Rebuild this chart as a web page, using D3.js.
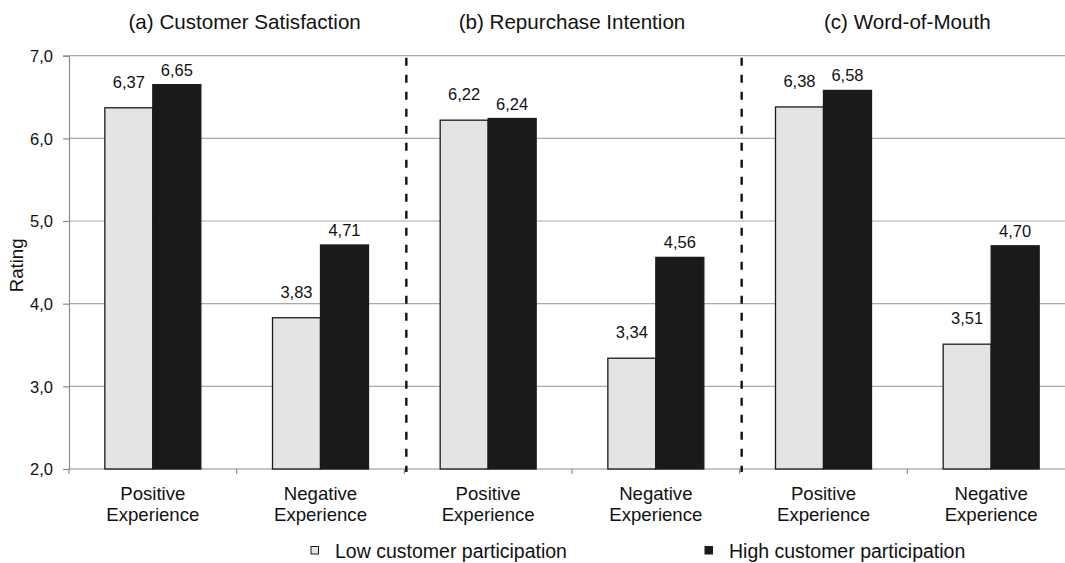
<!DOCTYPE html>
<html>
<head>
<meta charset="utf-8">
<script src="https://cdn.jsdelivr.net/npm/d3@7"></script>
<style>
  html, body { margin: 0; padding: 0; background: #fff; }
  svg { display: block; font-family: "Liberation Sans", Arial, sans-serif; }
</style>
</head>
<body>
<svg id="chart" width="1065" height="563"></svg>
<script>
// ---- Data ----
const panels = ["(a) Customer Satisfaction", "(b) Repurchase Intention", "(c) Word-of-Mouth"];
const experiences = ["Positive Experience", "Negative Experience"];
const categories = ["a-pos", "a-neg", "b-pos", "b-neg", "c-pos", "c-neg"];
const seriesNames = ["Low customer participation", "High customer participation"];
const lowValues  = [6.37, 3.83, 6.22, 3.34, 6.38, 3.51];
const highValues = [6.65, 4.71, 6.24, 4.56, 6.58, 4.70];
const yTicks = [2, 3, 4, 5, 6, 7];

// ---- Layout ----
const svg = d3.select("#chart");
const plotLeft = 69, plotRight = 1075, plotTop = 55.7, plotBottom = 469;

const x = d3.scaleBand().domain(categories).range([plotLeft, plotRight])
  .paddingInner(0.4275).paddingOuter(0.21375);
const xs = d3.scaleBand().domain([0, 1]).range([0, x.bandwidth()]).padding(0);
const y = d3.scaleLinear().domain([2, 7]).range([plotBottom, plotTop]);

const fmt = v => d3.format(".2f")(v).replace(".", ",");
const fmtTick = v => d3.format(".1f")(v).replace(".", ",");

// gridlines
svg.append("g").selectAll("line").data(yTicks.filter(t => t > 2)).join("line")
  .attr("x1", plotLeft).attr("x2", plotRight)
  .attr("y1", d => y(d)).attr("y2", d => y(d))
  .attr("stroke", "#a9a9a9").attr("stroke-width", 1.2);

// y axis
const yAxis = d3.axisLeft(y).tickValues(yTicks).tickSize(6).tickFormat(fmtTick);
const gy = svg.append("g").attr("transform", `translate(${plotLeft},0)`).call(yAxis);
gy.select(".domain").attr("stroke", "#8c8c8c").attr("stroke-width", 1.2);
gy.selectAll(".tick line").attr("stroke", "#8c8c8c").attr("stroke-width", 1.2);
gy.selectAll(".tick text").attr("font-size", 16.5).attr("fill", "#111")
  .attr("font-family", "'Liberation Sans', Arial, sans-serif").attr("x", -16).attr("dy", "0.36em");

// x axis line + boundary ticks
const step = x.step();
const boundaries = d3.range(categories.length + 1).map(i => plotLeft + i * step);
svg.append("line").attr("x1", plotLeft).attr("x2", plotRight)
  .attr("y1", plotBottom).attr("y2", plotBottom)
  .attr("stroke", "#8c8c8c").attr("stroke-width", 1.2);
svg.append("g").selectAll("line").data(boundaries).join("line")
  .attr("x1", d => d).attr("x2", d => d)
  .attr("y1", plotBottom).attr("y2", plotBottom + 5)
  .attr("stroke", "#8c8c8c").attr("stroke-width", 1.2);

// bars
const colors = ["#e4e4e4", "#1a1a1a"];
const rows = categories.map((c, i) => ({ c, vals: [lowValues[i], highValues[i]] }));
const gBars = svg.append("g");
rows.forEach(r => {
  r.vals.forEach((v, s) => {
    gBars.append("rect")
      .attr("x", x(r.c) + xs(s))
      .attr("y", y(v))
      .attr("width", xs.bandwidth())
      .attr("height", y(2) - y(v))
      .attr("fill", colors[s])
      .attr("stroke", "#1a1a1a").attr("stroke-width", 1.3);
    gBars.append("text")
      .attr("x", x(r.c) + xs(s) + xs.bandwidth() / 2)
      .attr("y", y(v) - (s === 0 ? 20 : 9))
      .attr("text-anchor", "middle")
      .attr("font-size", 16.5).attr("fill", "#111")
      .text(fmt(v));
  });
});

// dashed separators
[2, 4].forEach(i => {
  svg.append("line")
    .attr("x1", boundaries[i] + 2).attr("x2", boundaries[i] + 2)
    .attr("y1", plotTop + 2).attr("y2", plotBottom + 3)
    .attr("stroke", "#111").attr("stroke-width", 2.4)
    .attr("stroke-dasharray", "8,9");
});

// category labels
categories.forEach((c, i) => {
  const words = experiences[i % 2].split(" ");
  const cx = x(c) + x.bandwidth() / 2;
  const t = svg.append("text")
    .attr("x", cx)
    .attr("y", 499.5)
    .attr("text-anchor", "middle")
    .attr("font-size", 18.6).attr("fill", "#111");
  words.forEach((w, k) => {
    t.append("tspan").attr("x", cx).attr("dy", k === 0 ? 0 : 21.5).text(w);
  });
});

// panel titles
panels.forEach((p, i) => {
  const cx = (boundaries[2 * i] + boundaries[2 * i + 2]) / 2;
  svg.append("text")
    .attr("x", cx + (i === 0 ? 8 : 0))
    .attr("y", 29)
    .attr("text-anchor", "middle")
    .attr("font-size", 20.6).attr("fill", "#111")
    .text(p);
});

// y axis title
svg.append("text")
  .attr("transform", `translate(23,${(plotTop + plotBottom) / 2 + 3}) rotate(-90)`)
  .attr("text-anchor", "middle")
  .attr("font-size", 18.6).attr("fill", "#111")
  .text("Rating");

// legend
const legendX = [311, 705];
seriesNames.forEach((n, s) => {
  svg.append("rect")
    .attr("x", legendX[s]).attr("y", 546.5)
    .attr("width", 7.5).attr("height", 7.5)
    .attr("fill", colors[s]).attr("stroke", "#1a1a1a").attr("stroke-width", 1);
  svg.append("text")
    .attr("x", legendX[s] + 24).attr("y", 558)
    .attr("font-size", 19.5).attr("fill", "#111")
    .text(n);
});
</script>
</body>
</html>
